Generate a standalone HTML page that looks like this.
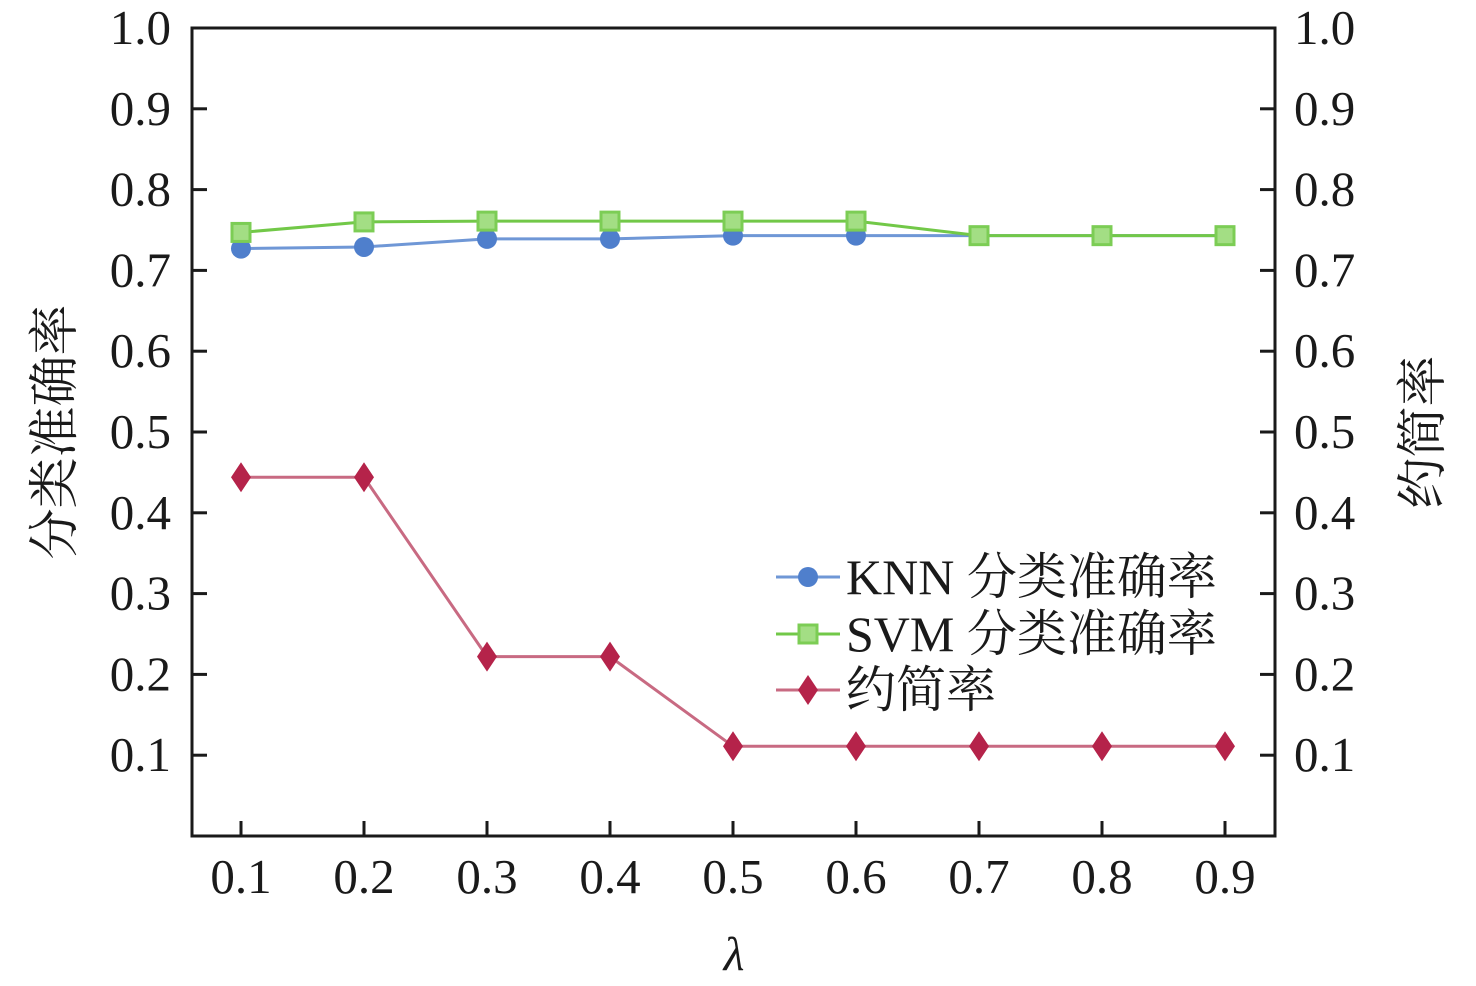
<!DOCTYPE html>
<html><head><meta charset="utf-8"><style>
body{margin:0;background:#fff}
svg{display:block}
text{font-family:"Liberation Serif","Noto Serif CJK SC",serif;fill:#1a1a1a}
</style></head><body>
<svg id="chart" width="1476" height="986">
<g id="axes"></g>
<g id="series"></g>
<g id="legend"></g>
</svg>
<script>
const categories=[0.1,0.2,0.3,0.4,0.5,0.6,0.7,0.8,0.9];
const knnValues=[0.727,0.729,0.739,0.739,0.743,0.743,0.743,0.743,0.743];
const svmValues=[0.747,0.760,0.761,0.761,0.761,0.761,0.743,0.743,0.743];
const reductValues=[0.444,0.444,0.222,0.222,0.111,0.111,0.111,0.111,0.111];
const yTicks=[0.1,0.2,0.3,0.4,0.5,0.6,0.7,0.8,0.9,1.0];
const yTickLabels=["0.1","0.2","0.3","0.4","0.5","0.6","0.7","0.8","0.9","1.0"];
const xTickLabels=["0.1","0.2","0.3","0.4","0.5","0.6","0.7","0.8","0.9"];

const NS="http://www.w3.org/2000/svg";
const L=192,R=1275,T=28,B=836;
const x=v=>241+(v-0.1)/0.8*984;
const y=v=>B-v*(B-T);
function el(tag,attrs,parent){const e=document.createElementNS(NS,tag);for(const k in attrs)e.setAttribute(k,attrs[k]);parent.appendChild(e);return e;}
const axes=document.getElementById('axes');
const ser=document.getElementById('series');
const leg=document.getElementById('legend');

let f=el('rect',{x:L,y:T,width:R-L,height:B-T,fill:'none',stroke:'#1a1a1a','stroke-width':3},axes);


yTicks.forEach((v,i)=>{
  let t1=el('line',{x1:L,x2:L+15,y1:y(v),y2:y(v),stroke:'#1a1a1a','stroke-width':3},axes);
  
  
  let t2=el('line',{x1:R-15,x2:R,y1:y(v),y2:y(v),stroke:'#1a1a1a','stroke-width':3},axes);
  
  
  let a=el('text',{x:171,y:y(v)+16,'text-anchor':'end','font-size':49},axes);a.textContent=yTickLabels[i];
  
  
  let b=el('text',{x:1294,y:y(v)+16,'text-anchor':'start','font-size':49},axes);b.textContent=yTickLabels[i];
  
  
});
categories.forEach((c,i)=>{
  let t=el('line',{x1:x(c),x2:x(c),y1:B-15,y2:B,stroke:'#1a1a1a','stroke-width':3},axes);
  
  
  let a=el('text',{x:x(c),y:893,'text-anchor':'middle','font-size':49},axes);a.textContent=xTickLabels[i];
  
  
});
let xt=el('text',{x:734,y:970,'text-anchor':'middle','font-size':48,'font-style':'italic'},axes);xt.textContent='λ';


let yl=el('text',{x:0,y:0,'text-anchor':'middle','font-size':51,transform:'translate(72,432) rotate(-90)'},axes);yl.textContent='分类准确率';


let yr=el('text',{x:0,y:0,'text-anchor':'middle','font-size':51,transform:'translate(1440,432) rotate(-90)'},axes);yr.textContent='约简率';



function marker(type,cx,cy,g){
  let m;
  if(type==='circle')m=el('circle',{cx:cx,cy:cy,r:10,fill:'#4f7fcc'},g);
  else if(type==='square')m=el('rect',{x:cx-9,y:cy-9,width:18,height:18,fill:'#a3de84',stroke:'#7ccd55','stroke-width':3},g);
  else m=el('polygon',{points:`${cx},${cy-15} ${cx+10},${cy} ${cx},${cy+15} ${cx-10},${cy}`,fill:'#b5234a'},g);
  return m;
}
const specs=[
  {vals:knnValues,line:'#6f97d6',type:'circle',name:'knn'},
  {vals:svmValues,line:'#72c848',type:'square',name:'svm'},
  {vals:reductValues,line:'#c86a82',type:'diamond',name:'reduct'}
];
specs.forEach(s=>{
  const g=el('g',{},ser);
  
  
  const p=el('polyline',{points:s.vals.map((v,i)=>x(categories[i])+','+y(v)).join(' '),fill:'none',stroke:s.line,'stroke-width':3},g);
  
  
  s.vals.forEach((v,i)=>{
    const m=marker(s.type,x(categories[i]),y(v),g);
    
    
  });
});
const legItems=[['KNN 分类准确率',specs[0],577],['SVM 分类准确率',specs[1],634],['约简率',specs[2],690]];
legItems.forEach(([label,s,ly])=>{
  const g=el('g',{},leg);
  
  
  el('line',{x1:776,x2:840,y1:ly,y2:ly,stroke:s.line,'stroke-width':3},g);
  marker(s.type,808,ly,g);
  const t=el('text',{x:846,y:ly+17,'font-size':50},g);t.textContent=label;
});
</script>
</body></html>
